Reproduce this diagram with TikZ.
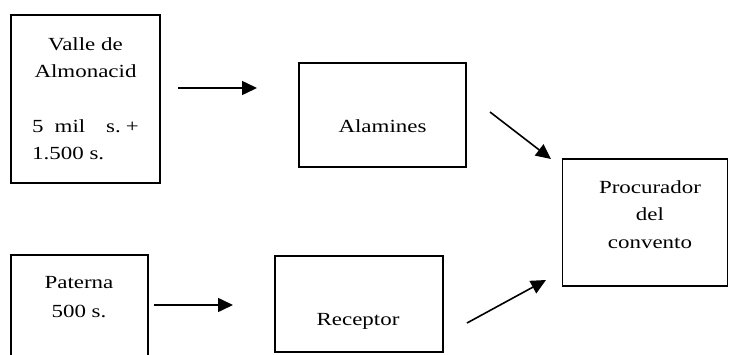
\documentclass[tikz,border=0pt]{standalone}
\usepackage{fontspec}
\setmainfont{Liberation Serif}[FakeStretch=1.24]
\usetikzlibrary{arrows.meta}
\tikzset{
  boxstyle/.style={draw, line width=1.6pt, rectangle, inner sep=0pt},
  lbl/.style={inner sep=0pt, anchor=base, font=\fontsize{18.5}{22}\selectfont},
  arr/.style={line width=1.6pt, -{Triangle[length=15pt,width=14pt]}}
}
\begin{document}
\begin{tikzpicture}[x=1pt,y=-1pt]
\useasboundingbox (0,0) rectangle (729,354);
% boxes
\node[boxstyle, minimum width=149pt, minimum height=168pt] (valle) at (85.5,99) {};
\node[boxstyle, minimum width=167pt, minimum height=104pt] (alam) at (382.5,115) {};
\node[boxstyle, minimum width=165pt, minimum height=127pt] (proc) at (645,222.5) {};
\node[boxstyle, minimum width=137pt, minimum height=110pt] (pat) at (79.5,310) {};
\node[boxstyle, minimum width=168pt, minimum height=96pt] (rec) at (359,304) {};
% texts
\node[lbl] (t1) at (85.5,50) {Valle de};
\node[lbl] (t2) at (85.5,77) {Almonacid};
\node[lbl, anchor=base west] (t3a) at (32,132) {5};
\node[lbl] (t3b) at (70,132) {mil};
\node[lbl, anchor=base west] (t3c) at (106,132) {s.};
\node[lbl, anchor=base east] (t3d) at (139,132) {+};
\node[lbl, anchor=base west] (t4) at (32,159) {1.500 s.};
\node[lbl] (t5) at (382.5,132) {Alamines};
\node[lbl] (t6) at (650,193) {Procurador};
\node[lbl] (t7) at (650,220) {del};
\node[lbl] (t8) at (650,248) {convento};
\node[lbl] (t9) at (79,288) {Paterna};
\node[lbl] (t10) at (79,317) {500 s.};
\node[lbl] (t11) at (358,325) {Receptor};
% arrow endpoints
\coordinate (a1s) at (178,88);
\coordinate (a1e) at (257,88);
\coordinate (a2s) at (490,112);
\coordinate (a2e) at (551,159);
\coordinate (a3s) at (154,305);
\coordinate (a3e) at (233,305);
\coordinate (a4s) at (467,323);
\coordinate (a4e) at (546,280);
\draw[arr] (a1s) -- (a1e);
\draw[arr] (a2s) -- (a2e);
\draw[arr] (a3s) -- (a3e);
\draw[arr] (a4s) -- (a4e);
\end{tikzpicture}
\end{document}
